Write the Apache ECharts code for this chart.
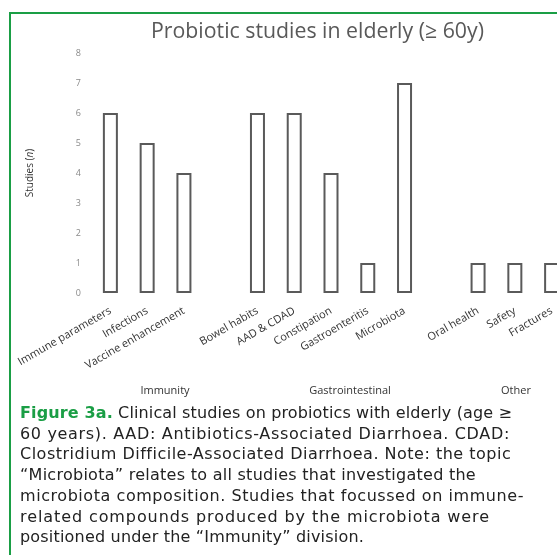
<!DOCTYPE html>
<html>
<head>
<meta charset="utf-8">
<script src="https://cdn.jsdelivr.net/npm/echarts@6/dist/echarts.min.js"></script>
<style>
  html, body { margin: 0; padding: 0; background: #fff; }
  #wrap { position: relative; width: 557px; height: 555px; overflow: hidden; background: #fff; }
  #frame { position: absolute; left: 9px; top: 12px; width: 560px; height: 560px;
           border-top: 2px solid #1a9e45; border-left: 2px solid #1a9e45; }
  #chart { position: absolute; left: 0; top: 0; width: 580px; height: 555px; }
  #caption { position: absolute; left: 20px; top: 403px; width: 537px;
             font-family: 'DejaVu Sans', sans-serif; font-size: 16px; line-height: 20.7px; color: #222; }
  #caption .ln { display: block; white-space: nowrap; }
  #caption .ln span.in { display: inline-block; }
  #caption b { color: #1a9e45; font-weight: bold; }
</style>
</head>
<body>
<div id="wrap">
  <div id="frame"></div>
  <div id="chart"></div>
  <div id="caption">
    <div class="ln"><span class="in"><b>Figure 3a.</b> Clinical studies on probiotics with elderly (age ≥</span></div>
    <div class="ln"><span class="in">60 years). AAD: Antibiotics-Associated Diarrhoea. CDAD:</span></div>
    <div class="ln"><span class="in">Clostridium Difficile-Associated Diarrhoea. Note: the topic</span></div>
    <div class="ln"><span class="in">“Microbiota” relates to all studies that investigated the</span></div>
    <div class="ln"><span class="in">microbiota composition. Studies that focussed on immune-</span></div>
    <div class="ln"><span class="in">related compounds produced by the microbiota were</span></div>
    <div class="ln"><span class="in">positioned under the “Immunity” division.</span></div>
  </div>
</div>
<script>
const categories = ['Immune parameters', 'Infections', 'Vaccine enhancement', ' ',
  'Bowel habits', 'AAD & CDAD', 'Constipation', 'Gastroenteritis', 'Microbiota', '  ',
  'Oral health', 'Safety', 'Fractures'];
const studies = [6, 5, 4, null, 6, 6, 4, 1, 7, null, 1, 1, 1];
const yTicks = [0, 1, 2, 3, 4, 5, 6, 7, 8];
const groupNames = ['Immunity', 'Gastrointestinal', 'Other'];
const groupCenters = [165, 350, 516];

// fit caption lines to the widths seen in the reference
const captionLineWidths = [492, 490, 491, 456, 504, 470, 344];
document.querySelectorAll('#caption .in').forEach((el, i) => {
  const n = el.textContent.length;
  const w = el.getBoundingClientRect().width;
  const ls = (captionLineWidths[i] - w) / n;
  el.style.letterSpacing = ls.toFixed(3) + 'px';
});

const chart = echarts.init(document.getElementById('chart'), null, { renderer: 'canvas' });
const font = 'Open Sans, sans-serif';
chart.setOption({
  backgroundColor: 'transparent',
  animation: false,
  title: {
    text: 'Probiotic studies in elderly (≥ 60y)',
    left: 146, top: 16,
    textStyle: { fontFamily: font, fontSize: 21.3, fontWeight: 'normal', color: '#595959' }
  },
  grid: { left: 92, right: 10, top: 53, bottom: 262, containLabel: false },
  xAxis: {
    type: 'category',
    data: categories,
    axisLine: { show: false },
    axisTick: { show: false },
    axisLabel: { interval: 0, rotate: 30, margin: 17, fontFamily: font, fontSize: 11, color: '#333' }
  },
  yAxis: {
    type: 'value',
    min: yTicks[0], max: yTicks[yTicks.length - 1], interval: 1,
    axisLine: { show: false },
    axisTick: { show: false },
    splitLine: { show: false },
    axisLabel: { margin: 11, fontFamily: font, fontSize: 9, color: '#8a8a8a' },
    name: 'Studies ({i|n})',
    nameLocation: 'middle',
    nameRotate: 90,
    nameGap: 57,
    nameTextStyle: { fontFamily: font, fontSize: 10, color: '#333', rich: { i: { fontStyle: 'italic', fontFamily: font, fontSize: 10, color: '#333' } } }
  },
  series: [{
    type: 'bar',
    data: studies,
    barWidth: 15,
    itemStyle: { color: '#ffffff', borderColor: '#5a5a5a', borderWidth: 2 }
  }],
  graphic: groupNames.map((g, i) => ({
    type: 'text',
    x: groupCenters[i], y: 391,
    style: { text: g, fontFamily: font, fontSize: 11, fill: '#333', align: 'center', verticalAlign: 'middle' }
  }))
});
</script>
</body>
</html>
